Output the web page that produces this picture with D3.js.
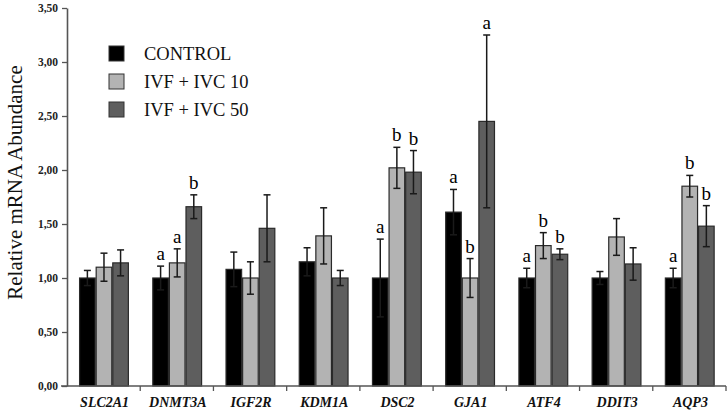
<!DOCTYPE html>
<html><head><meta charset="utf-8">
<script src="https://cdn.jsdelivr.net/npm/d3@7"></script>
<style>
html,body{margin:0;padding:0;background:#fff;}
svg{display:block;}
</style></head>
<body>
<svg id="chart" width="728" height="411"></svg>
<script>
const genes = ["SLC2A1","DNMT3A","IGF2R","KDM1A","DSC2","GJA1","ATF4","DDIT3","AQP3"];
const seriesNames = ["CONTROL","IVF + IVC 10","IVF + IVC 50"];
const controlMean = [1.00,1.00,1.08,1.15,1.00,1.61,1.00,1.00,1.00];
const controlErr  = [0.07,0.11,0.16,0.13,0.36,0.21,0.09,0.06,0.09];
const ivc10Mean   = [1.10,1.14,1.00,1.39,2.02,1.00,1.30,1.38,1.85];
const ivc10Err    = [0.13,0.13,0.15,0.26,0.19,0.18,0.12,0.17,0.10];
const ivc50Mean   = [1.14,1.66,1.46,1.00,1.98,2.45,1.22,1.13,1.48];
const ivc50Err    = [0.12,0.11,0.31,0.07,0.20,0.80,0.05,0.15,0.19];
const controlSig  = ["","a","","","a","a","a","","a"];
const ivc10Sig    = ["","a","","","b","b","b","","b"];
const ivc50Sig    = ["","b","","","b","a","b","","b"];
const yTicks = [0,0.5,1,1.5,2,2.5,3,3.5];
const colors = ["#000000","#b3b3b3","#5e5e5e"];

const FONT = "Liberation Serif, Tinos, Times New Roman, DejaVu Serif, serif";
const means = [controlMean, ivc10Mean, ivc50Mean];
const errs = [controlErr, ivc10Err, ivc50Err];
const sigs = [controlSig, ivc10Sig, ivc50Sig];

const svg = d3.select("#chart");
const mLeft = 67, mRight = 726, mTop = 8, mBottom = 386;

const x0 = d3.scaleBand().domain(genes).range([mLeft, mRight]).paddingInner(0).paddingOuter(0);
const bw = x0.bandwidth();
const x1 = d3.scaleBand().domain(seriesNames).range([bw*0.165, bw*0.845]).padding(0);
const y = d3.scaleLinear().domain([0,3.5]).range([mBottom, mTop]);

const data = [];
genes.forEach((g,i)=>{
  seriesNames.forEach((s,j)=>{
    data.push({gene:g, series:s, j, mean:means[j][i], err:errs[j][i], sig:sigs[j][i]});
  });
});

// bars
svg.append("g").selectAll("rect").data(data).join("rect")
  .attr("x", d=>x0(d.gene)+x1(d.series)+0.5)
  .attr("y", d=>y(d.mean))
  .attr("width", x1.bandwidth()-1)
  .attr("height", d=>mBottom - y(d.mean))
  .attr("fill", d=>colors[d.j])
  .attr("stroke", "#2a2a2a")
  .attr("stroke-width", 1.2);

// error bars
const eg = svg.append("g").attr("stroke","#1a1a1a").attr("stroke-width",1.5).attr("fill","none");
data.forEach(d=>{
  const cx = x0(d.gene)+x1(d.series)+x1.bandwidth()/2;
  const y1 = y(d.mean+d.err), y2 = y(d.mean-d.err);
  eg.append("line").attr("x1",cx).attr("x2",cx).attr("y1",y1).attr("y2",y2);
  eg.append("line").attr("x1",cx-3.5).attr("x2",cx+3.5).attr("y1",y1).attr("y2",y1);
  eg.append("line").attr("x1",cx-3.5).attr("x2",cx+3.5).attr("y1",y2).attr("y2",y2);
});

// significance letters
svg.append("g").selectAll("text").data(data.filter(d=>d.sig)).join("text")
  .attr("x", d=>x0(d.gene)+x1(d.series)+x1.bandwidth()/2)
  .attr("y", d=>y(d.mean+d.err)-6)
  .attr("text-anchor","middle")
  .attr("font-family",FONT)
  .attr("font-size","19px")
  .attr("fill","#000")
  .text(d=>d.sig);

// y axis
const yAxis = d3.axisLeft(y).tickValues(yTicks).tickSize(5).tickSizeOuter(0)
  .tickFormat(v=>d3.format(".2f")(v).replace(".",","));
const ga = svg.append("g").attr("transform",`translate(${mLeft},0)`).call(yAxis);
ga.attr("font-family",FONT);
ga.select(".domain").attr("stroke","#555").attr("stroke-width",1.6);
ga.selectAll(".tick line").attr("stroke","#555").attr("stroke-width",1.3);
ga.selectAll(".tick text").attr("font-family",FONT)
  .attr("font-size","11.5px").attr("font-weight","bold").attr("fill","#222").attr("x",-9);

// x axis
const xAxisLine = svg.append("g");
xAxisLine.append("line").attr("x1",mLeft-6).attr("x2",mRight).attr("y1",mBottom).attr("y2",mBottom)
  .attr("stroke","#555").attr("stroke-width",1.6);
xAxisLine.selectAll("line.tk").data(genes).join("line").attr("class","tk")
  .attr("x1",g=>x0(g)+bw).attr("x2",g=>x0(g)+bw).attr("y1",mBottom).attr("y2",mBottom+5)
  .attr("stroke","#555").attr("stroke-width",1.3);
svg.append("g").selectAll("text").data(genes).join("text")
  .attr("x", g=>x0(g)+bw/2+1)
  .attr("y", 407)
  .attr("text-anchor","middle")
  .attr("font-family",FONT)
  .attr("font-size","14px").attr("font-weight","bold").attr("font-style","italic")
  .attr("fill","#111")
  .text(g=>g);

// y axis title
svg.append("text")
  .attr("transform",`translate(22,${(67+298)/2}) rotate(-90)`)
  .attr("text-anchor","middle")
  .attr("font-family",FONT)
  .attr("font-size","21px").attr("fill","#111")
  .text("Relative mRNA Abundance");

// legend
const lg = svg.append("g");
seriesNames.forEach((s,j)=>{
  const yy = 46 + j*28;
  lg.append("rect").attr("x",109).attr("y",yy).attr("width",15).attr("height",15)
    .attr("fill",colors[j]).attr("stroke","#333").attr("stroke-width",1);
  lg.append("text").attr("x",144).attr("y",yy+13.5).attr("font-family",FONT)
    .attr("font-size","18.5px").attr("fill","#111").text(s);
});
</script>
</body></html>
